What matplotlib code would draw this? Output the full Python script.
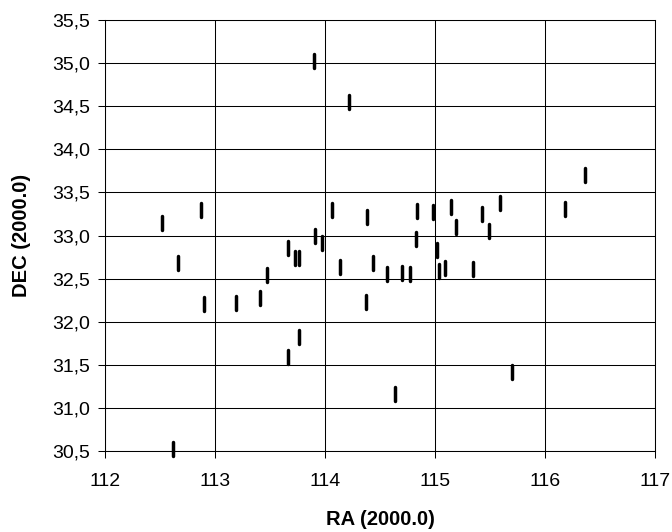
#!/usr/bin/env python3
"""Scatter of RA vs DEC positions (2000.0)."""

import matplotlib.pyplot as plt
from matplotlib.markers import MarkerStyle
from matplotlib.ticker import FuncFormatter

ra = [
    112.52, 112.87, 112.66, 112.90, 112.62, 113.19, 113.41, 113.47,
    113.66, 113.73, 113.76, 113.66, 113.76, 113.90, 113.91, 113.97,
    114.06, 114.14, 114.22, 114.38, 114.37, 114.44, 114.56, 114.64,
    114.70, 114.77, 114.84, 114.83, 114.98, 115.02, 115.04, 115.09,
    115.15, 115.19, 115.35, 115.43, 115.49, 115.59, 115.70, 116.18,
    116.36,
]
dec = [
    33.14, 33.30, 32.68, 32.21, 30.52, 32.22, 32.28, 32.54,
    32.86, 32.74, 32.74, 31.59, 31.82, 35.03, 33.00, 32.91,
    33.30, 32.63, 34.55, 33.22, 32.23, 32.68, 32.55, 31.16,
    32.57, 32.55, 33.29, 32.96, 33.27, 32.83, 32.59, 32.62,
    33.33, 33.10, 32.61, 33.25, 33.05, 33.38, 31.42, 33.31,
    33.70,
]

x_ticks = [112, 113, 114, 115, 116, 117]
y_ticks = [30.5, 31.0, 31.5, 32.0, 32.5, 33.0, 33.5, 34.0, 34.5, 35.0, 35.5]


def main():
    plt.rcParams['font.family'] = ['Liberation Sans', 'DejaVu Sans']

    fig = plt.figure(figsize=(6.72, 5.32), dpi=100)
    ax = fig.add_axes([105 / 672, 1 - 451 / 532, 550 / 672, 431 / 532])

    marker = MarkerStyle('|', capstyle='round')
    ax.plot(ra, dec, linestyle='none', marker=marker, markersize=10,
            markeredgewidth=2.5, color='black', clip_on=False, zorder=3)

    ax.set_xlim(112, 117)
    ax.set_ylim(30.5, 35.5)
    ax.set_xticks(x_ticks)
    ax.set_yticks(y_ticks)
    ax.yaxis.set_major_formatter(
        FuncFormatter(lambda v, p: f"{v:.1f}".replace('.', ',')))
    ax.xaxis.set_major_formatter(FuncFormatter(lambda v, p: f"{v:.0f}"))

    ax.grid(True, color='black', linewidth=0.75)
    ax.set_axisbelow(True)
    for s in ax.spines.values():
        s.set_color('black')
        s.set_linewidth(0.75)

    ax.tick_params(axis='both', direction='out', length=5, width=0.75,
                   labelsize=14, colors='black')
    ax.tick_params(axis='x', pad=11)
    ax.tick_params(axis='y', pad=6)

    ax.set_xlabel('RA (2000.0)', fontsize=14.5, fontweight='bold',
                  labelpad=14)
    ax.set_ylabel('DEC (2000.0)', fontsize=14.5, fontweight='bold',
                  labelpad=15)

    fig.savefig('out.png', dpi=100)


if __name__ == '__main__':
    main()
